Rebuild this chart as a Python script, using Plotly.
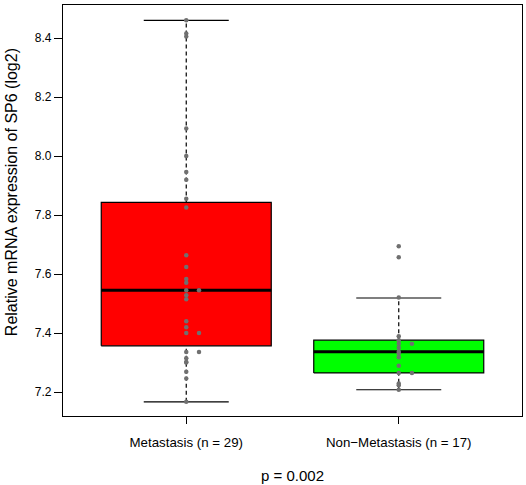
import plotly.graph_objects as go

# ---- data ----
categories = ["Metastasis (n = 29)", "Non\u2212Metastasis (n = 17)"]
box_colors = ["#FF0000", "#00FF00"]
q1 = [7.357, 7.265]
median = [7.545, 7.337]
q3 = [7.843, 7.376]
lower_whisker = [7.167, 7.208]
upper_whisker = [8.460, 7.519]

met_values = [8.460, 8.415, 8.405, 8.093, 8.000, 7.946, 7.920, 7.855, 7.826,
              7.664, 7.624, 7.583, 7.571, 7.545, 7.545, 7.528, 7.515, 7.440,
              7.420, 7.400, 7.400, 7.336, 7.336, 7.315, 7.302, 7.300, 7.269,
              7.246, 7.167]
met_jitter = [0, 0, 0, 0, 0, 0, 0, 0, 0, 0, 0, 0, 0, 0, 0.06, 0, 0, 0,
              0, 0, 0.06, 0.06, 0, 0, 0, 0, 0, 0, 0]
non_values = [7.694, 7.657, 7.521, 7.389, 7.376, 7.364, 7.364, 7.350, 7.337,
              7.331, 7.318, 7.289, 7.265, 7.265, 7.229, 7.223, 7.208]
non_jitter = [0, 0, 0, 0, 0, 0, 0.062, 0, 0, 0, 0, 0, 0, 0.062, 0, 0, 0]

y_ticks = [7.2, 7.4, 7.6, 7.8, 8.0, 8.2, 8.4]
p_label = "p = 0.002"
y_title = "Relative mRNA expression of SP6 (log2)"

BOX_HALF = 0.4
CAP_HALF = 0.2
FONT = "Liberation Sans, Arial, sans-serif"

fig = go.Figure()
for i, cat in enumerate(categories):
    x0 = i + 1
    # box
    fig.add_trace(go.Scatter(
        x=[x0 - BOX_HALF, x0 + BOX_HALF, x0 + BOX_HALF, x0 - BOX_HALF, x0 - BOX_HALF],
        y=[q1[i], q1[i], q3[i], q3[i], q1[i]],
        fill="toself", fillcolor=box_colors[i], mode="lines",
        line=dict(color="black", width=1.2), hoverinfo="skip", showlegend=False))
    # median
    fig.add_trace(go.Scatter(
        x=[x0 - BOX_HALF, x0 + BOX_HALF], y=[median[i], median[i]], mode="lines",
        line=dict(color="black", width=3), hoverinfo="skip", showlegend=False))
    # whiskers (dashed)
    for a, b in [(q3[i], upper_whisker[i]), (lower_whisker[i], q1[i])]:
        fig.add_trace(go.Scatter(
            x=[x0, x0], y=[a, b], mode="lines",
            line=dict(color="black", width=1.2, dash="4px,3px"),
            hoverinfo="skip", showlegend=False))
    # caps
    for v in (upper_whisker[i], lower_whisker[i]):
        fig.add_trace(go.Scatter(
            x=[x0 - CAP_HALF, x0 + CAP_HALF], y=[v, v], mode="lines",
            line=dict(color="black", width=1.2), hoverinfo="skip", showlegend=False))

# points
for i, (vals, jit) in enumerate([(met_values, met_jitter), (non_values, non_jitter)]):
    fig.add_trace(go.Scatter(
        x=[i + 1 + j for j in jit], y=vals, mode="markers",
        marker=dict(color="#707070", size=4.5, line=dict(width=0)),
        showlegend=False))

fig.update_layout(
    width=526, height=485,
    margin=dict(l=63, r=4, t=5, b=69, autoexpand=False),
    plot_bgcolor="white", paper_bgcolor="white",
    font=dict(family=FONT, color="black"),
    annotations=[
        dict(text=y_title, textangle=-90, xref="paper", yref="paper",
             x=-0.113, y=0.545, xanchor="center", yanchor="middle", showarrow=False,
             font=dict(size=16, family=FONT, color="black")),
        dict(text=p_label, xref="paper", yref="paper",
             x=0.5, y=-0.1436, xanchor="center", yanchor="middle", showarrow=False,
             font=dict(size=15, family=FONT, color="black")),
    ],
)
fig.update_xaxes(
    range=[0.42, 2.58], tickvals=[1, 2], ticktext=categories,
    ticks="outside", ticklen=7, tickcolor="black", tickwidth=1.2,
    tickfont=dict(size=13.3, family=FONT, color="black"),
    ticklabelstandoff=7, automargin=False,
    showline=True, linecolor="black", linewidth=1.3, mirror=True,
    showgrid=False, zeroline=False,
)
fig.update_yaxes(
    range=[7.119, 8.512], tickvals=y_ticks, ticktext=[f"{v:.1f}" for v in y_ticks],
    ticks="outside", ticklen=8, tickcolor="black", tickwidth=1.2,
    tickfont=dict(size=12, family=FONT, color="black"), automargin=False,
    showline=True, linecolor="black", linewidth=1.3, mirror=True,
    showgrid=False, zeroline=False,
)

fig.write_html("out.html")
